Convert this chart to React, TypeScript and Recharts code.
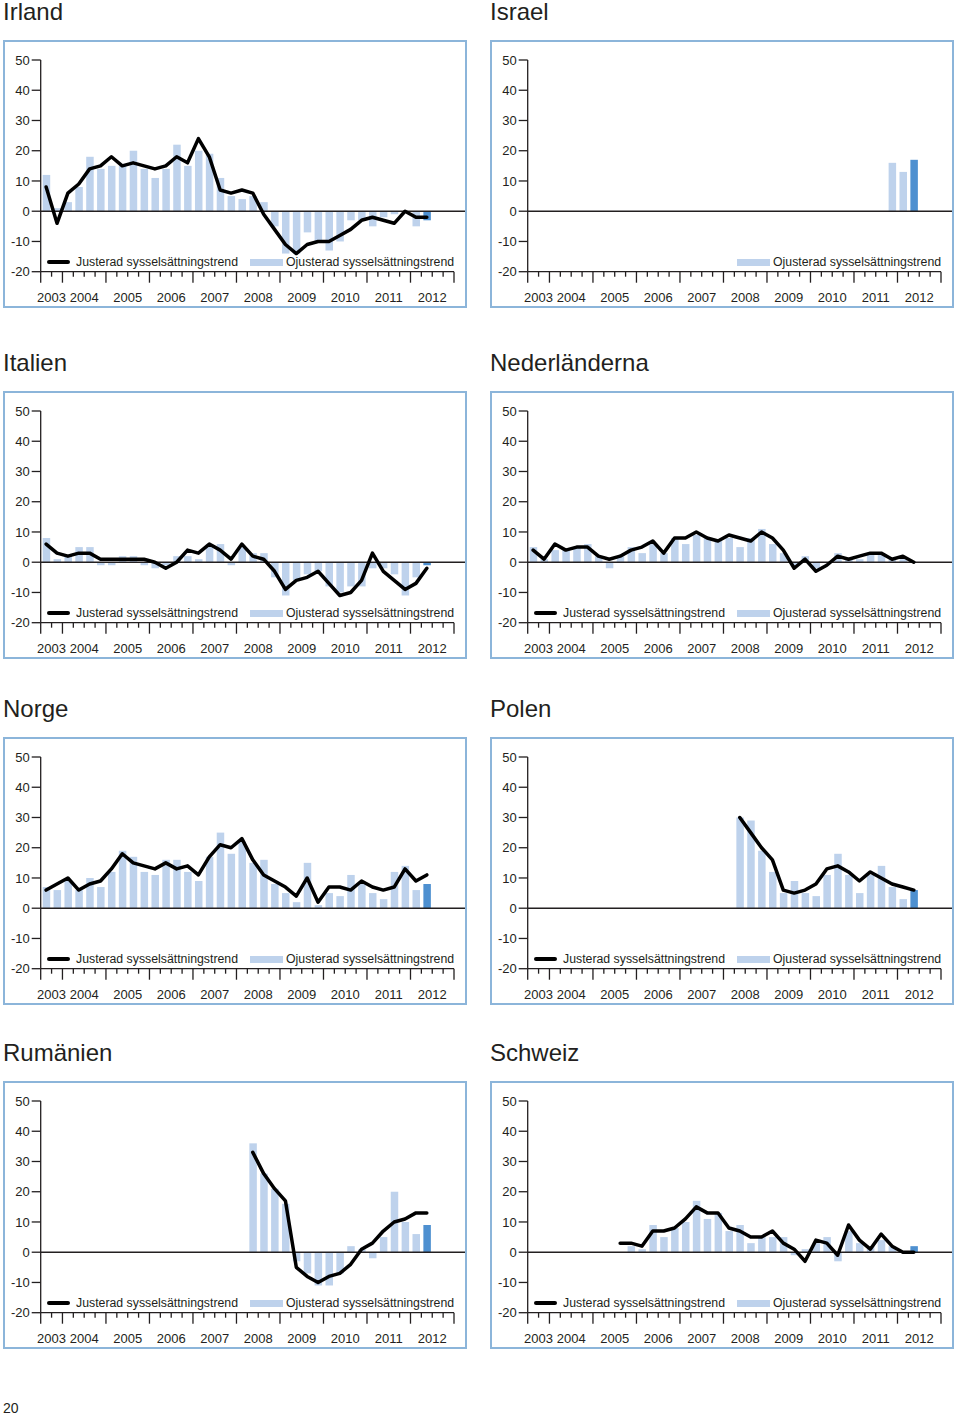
import { ComposedChart, Bar, Line, XAxis, YAxis, ReferenceLine, Cell } from 'recharts';

const years = [2003, 2004, 2005, 2006, 2007, 2008, 2009, 2010, 2011, 2012];

// serien börjar 2003 K3 och axeln går till 2012 K4
const quarters: string[] = [];
years.forEach((y) => {
  const first = y === 2003 ? 3 : 1;
  for (let k = first; k <= 4; k++) quarters.push(`${y} K${k}`);
});

const yTicks = [-20, -10, 0, 10, 20, 30, 40, 50];

// data som börjar senare än 2003 K3 fylls ut med null
const pad = (start: number, values: number[]) => [...Array(start).fill(null), ...values];

const irlandBars = [12, 1, 3, 8, 18, 14, 15, 15, 20, 14, 11, 14, 22, 15, 20, 19, 11, 5, 4, 5, 3, -5, -14, -14, -7, -10, -13, -10, -3, -3, -5, -2, -1, 0, -5, -3];
const irlandTrend = [8, -4, 6, 9, 14, 15, 18, 15, 16, 15, 14, 15, 18, 16, 24, 18, 7, 6, 7, 6, -1, -6, -11, -14, -11, -10, -10, -8, -6, -3, -2, -3, -4, 0, -2, -2];

const israelBars = pad(33, [16, 13, 17]);

const italienBars = [8, 1, 2, 5, 5, -1, -1, 2, 2, -1, -2, -1, 2, 2, 1, 6, 6, -1, 5, 3, 3, -5, -11, -6, -4, -3, -8, -10, -8, -8, -2, -2, -4, -11, -5, -1];
const italienTrend = [6, 3, 2, 3, 3, 1, 1, 1, 1, 1, 0, -2, 0, 4, 3, 6, 4, 1, 6, 2, 1, -3, -9, -6, -5, -3, -7, -11, -10, -6, 3, -3, -6, -9, -7, -2];

const nederBars = [5, 1, 4, 4, 5, 6, 2, -2, 2, 5, 3, 6, 3, 8, 6, 9, 8, 7, 8, 5, 8, 11, 6, 3, -1, 2, -2, 0, 3, 1, 1, 3, 3, 1, 1, 0];
const nederTrend = [4, 1, 6, 4, 5, 5, 2, 1, 2, 4, 5, 7, 3, 8, 8, 10, 8, 7, 9, 8, 7, 10, 8, 4, -2, 1, -3, -1, 2, 1, 2, 3, 3, 1, 2, 0];

const norgeBars = [7, 6, 9, 6, 10, 7, 12, 19, 17, 12, 11, 16, 16, 12, 9, 17, 25, 18, 22, 15, 16, 8, 5, 2, 15, 1, 5, 4, 11, 8, 5, 3, 12, 14, 6, 8];
const norgeTrend = [6, 8, 10, 6, 8, 9, 13, 18, 15, 14, 13, 15, 13, 14, 11, 17, 21, 20, 23, 16, 11, 9, 7, 4, 10, 2, 7, 7, 6, 9, 7, 6, 7, 13, 9, 11];

const polenBars = pad(19, [30, 29, 19, 12, 5, 9, 5, 4, 11, 18, 11, 5, 11, 14, 7, 3, 6]);
const polenTrend = pad(19, [30, 25, 20, 16, 6, 5, 6, 8, 13, 14, 12, 9, 12, 10, 8, 7, 6]);

const rumanienBars = pad(19, [36, 26, 21, 16, -3, -7, -11, -11, -7, 2, 1, -2, 5, 20, 10, 6, 9]);
const rumanienTrend = pad(19, [33, 26, 21, 17, -5, -8, -10, -8, -7, -4, 1, 3, 7, 10, 11, 13, 13]);

const schweizBars = pad(9, [2, 1, 9, 5, 8, 10, 17, 11, 13, 7, 9, 3, 5, 5, 5, -1, 1, 3, 5, -3, 7, 3, 2, 4, 2, 0, 2]);
const schweizTrend = pad(8, [3, 3, 2, 7, 7, 8, 11, 15, 13, 13, 8, 7, 5, 5, 7, 3, 1, -3, 4, 3, -1, 9, 4, 1, 6, 2, 0, 0]);

// kvartalsgränser och årens mittpunkter för x-axeln
const gridTicks = quarters.map((_, i) => i).concat(quarters.length);
const yearEdges: number[] = [0];
const yearMid: Record<number, string> = {};
years.forEach((y) => {
  const start = quarters.findIndex((q) => q.startsWith(String(y)));
  const count = quarters.filter((q) => q.startsWith(String(y))).length;
  yearMid[start + count / 2] = String(y);
  yearEdges.push(start + count);
});

const FONT = '"Liberation Sans", Arial, sans-serif';
const INK = '#231f20';
const LIGHT = '#bed2ec';
const DARK = '#4e90d0';
const W = 464;
const H = 268;

const QuarterTick = ({ x, y, payload }: any) => {
  const v = payload.value;
  const major = yearEdges.includes(v);
  const label = yearMid[v];
  return (
    <g>
      <line x1={x} x2={x} y1={y} y2={y + (major ? 11 : 5)} stroke={INK} strokeWidth={1.3} />
      {label && (
        <text x={x} y={y + 30} textAnchor="middle" fontSize={13} fill={INK} fontFamily={FONT}>
          {label}
        </text>
      )}
    </g>
  );
};

interface PanelProps {
  title: string;
  left: number;
  top: number;
  bars: (number | null)[];
  trend?: (number | null)[];
}

const Panel = ({ title, left, top, bars, trend }: PanelProps) => {
  const data = quarters.map((q, i) => ({
    q,
    pos: i + 0.5,
    bar: bars[i] ?? null,
    trend: trend ? trend[i] ?? null : null,
  }));
  let lastIdx = 0;
  data.forEach((d, i) => {
    if (d.bar !== null) lastIdx = i;
  });

  return (
    <>
      <div style={{ position: 'absolute', left, top: top - 40, fontSize: 24, lineHeight: '24px', color: INK }}>
        {title}
      </div>
      <div
        style={{
          position: 'absolute',
          left,
          top,
          width: W,
          height: H,
          border: '2px solid #8cb5da',
          boxSizing: 'border-box',
        }}
      />
      <div style={{ position: 'absolute', left, top }}>
        <ComposedChart width={W} height={H} data={data} margin={{ top: 20, right: 13, bottom: 6.3, left: 0 }}>
          <XAxis xAxisId="cat" dataKey="q" orientation="top" height={0} hide />
          <XAxis
            xAxisId="grid"
            type="number"
            dataKey="pos"
            domain={[0, quarters.length]}
            allowDataOverflow
            ticks={gridTicks}
            interval={0}
            tickLine={false}
            tickSize={0}
            tickMargin={0}
            tick={<QuarterTick />}
            axisLine={{ stroke: INK, strokeWidth: 1.3 }}
            height={30}
          />
          <YAxis
            domain={[-20, 50]}
            ticks={yTicks}
            interval={0}
            width={37.7}
            tickSize={9}
            tickMargin={2}
            axisLine={{ stroke: INK, strokeWidth: 1.3 }}
            tickLine={{ stroke: INK, strokeWidth: 1.3 }}
            tick={{ fontSize: 13, fill: INK, fontFamily: FONT }}
          />
          <Bar xAxisId="cat" dataKey="bar" barSize={7.5} isAnimationActive={false}>
            {data.map((_, i) => (
              <Cell key={i} fill={i === lastIdx ? DARK : LIGHT} />
            ))}
          </Bar>
          <ReferenceLine
            xAxisId="cat"
            y={0}
            shape={(p: any) => (
              <line x1={p.x1} y1={p.y1} x2={p.x2 + 11} y2={p.y2} stroke={INK} strokeWidth={1.5} />
            )}
          />
          {trend && (
            <Line
              xAxisId="cat"
              dataKey="trend"
              type="linear"
              stroke="#000"
              strokeWidth={3.5}
              strokeLinejoin="round"
              strokeLinecap="round"
              dot={false}
              isAnimationActive={false}
            />
          )}
        </ComposedChart>
      </div>
      {trend && (
        <>
          <div
            style={{
              position: 'absolute',
              left: left + 44,
              top: top + 220,
              width: 23,
              height: 4,
              borderRadius: 2,
              background: '#000',
            }}
          />
          <div style={{ position: 'absolute', left: left + 73, top: top + 214, fontSize: 12.3, lineHeight: '16px', color: INK }}>
            Justerad sysselsättningstrend
          </div>
        </>
      )}
      <div
        style={{ position: 'absolute', left: left + 247, top: top + 218.5, width: 33, height: 7, background: LIGHT }}
      />
      <div style={{ position: 'absolute', left: left + 283, top: top + 214, fontSize: 12.3, lineHeight: '16px', color: INK }}>
        Ojusterad sysselsättningstrend
      </div>
    </>
  );
};

const COLS = [3, 490];
const ROWS = [40, 391, 737, 1081];

export default function App() {
  return (
    <div
      style={{
        position: 'absolute',
        left: 0,
        top: 0,
        width: 960,
        height: 1416,
        background: '#fff',
        fontFamily: FONT,
      }}
    >
      <Panel title="Irland" left={COLS[0]} top={ROWS[0]} bars={irlandBars} trend={irlandTrend} />
      <Panel title="Israel" left={COLS[1]} top={ROWS[0]} bars={israelBars} />
      <Panel title="Italien" left={COLS[0]} top={ROWS[1]} bars={italienBars} trend={italienTrend} />
      <Panel title="Nederländerna" left={COLS[1]} top={ROWS[1]} bars={nederBars} trend={nederTrend} />
      <Panel title="Norge" left={COLS[0]} top={ROWS[2]} bars={norgeBars} trend={norgeTrend} />
      <Panel title="Polen" left={COLS[1]} top={ROWS[2]} bars={polenBars} trend={polenTrend} />
      <Panel title="Rumänien" left={COLS[0]} top={ROWS[3]} bars={rumanienBars} trend={rumanienTrend} />
      <Panel title="Schweiz" left={COLS[1]} top={ROWS[3]} bars={schweizBars} trend={schweizTrend} />
      <div style={{ position: 'absolute', left: 3, top: 1400, fontSize: 14, lineHeight: '16px', color: INK }}>20</div>
    </div>
  );
}
